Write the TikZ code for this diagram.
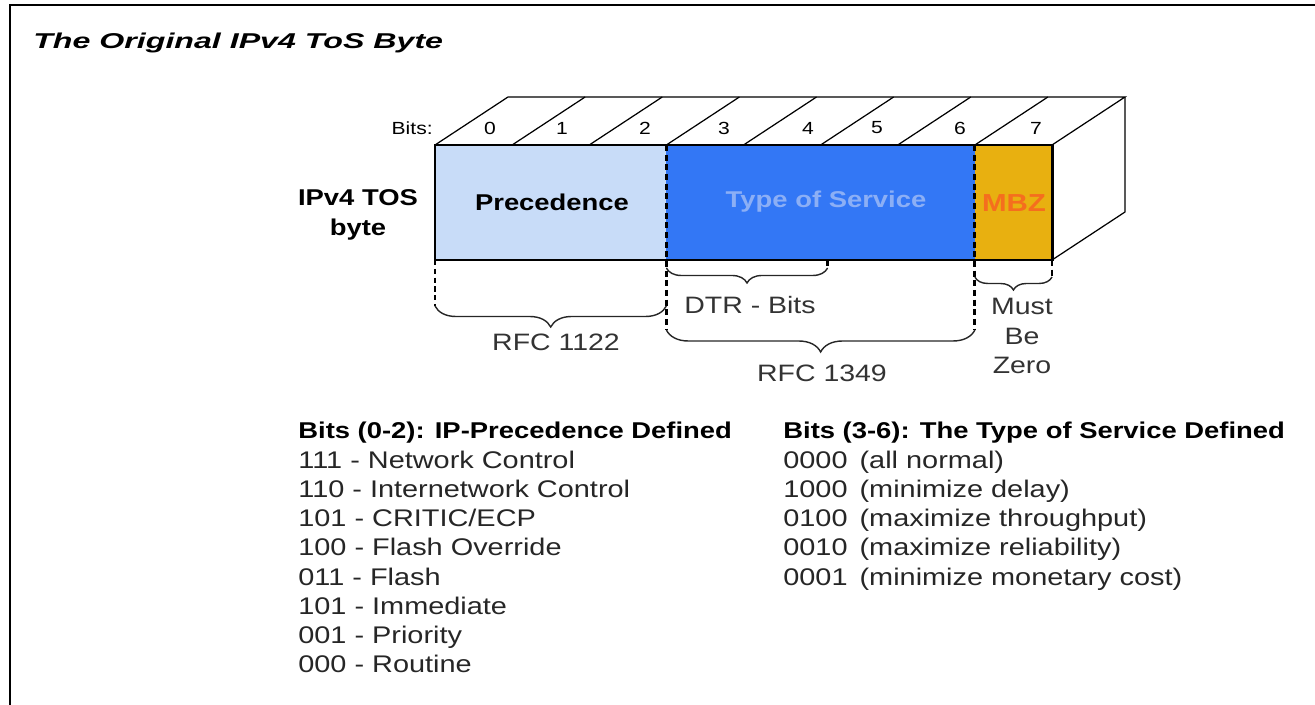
\documentclass[tikz,border=0pt]{standalone}
\usepackage{fontspec}
\setmainfont[FakeStretch=1.2]{Liberation Sans}
\newfontfamily\titlefont[FakeStretch=1.5]{Liberation Sans}
\usepackage{xcolor}
\usetikzlibrary{decorations.pathreplacing,positioning,calc}
\definecolor{precfill}{RGB}{200,220,248}
\definecolor{tosfill}{RGB}{51,119,245}
\definecolor{mbzfill}{RGB}{232,176,16}
\definecolor{tostext}{RGB}{140,175,245}
\definecolor{mbztext}{RGB}{245,110,30}
\tikzset{
  frame/.style    = {line width=1.2pt, draw=black},
  titletext/.style= {inner sep=0pt, font=\titlefont\fontsize{12.2}{14}\selectfont\bfseries\itshape},
  boxline/.style  = {line width=1.7pt, draw=black},
  faceline/.style = {line width=0.7pt, draw=black},
  bitdash/.style  = {line width=1.6pt, draw=black, dash pattern=on 3.5pt off 2pt},
  legdash/.style  = {line width=0.8pt, draw=black, dash pattern=on 3pt off 2pt},
  brc/.style      = {decorate, line width=0.8pt, draw=black!85},
  fieldlbl/.style = {inner sep=0pt, font=\fontsize{13}{15}\selectfont\bfseries},
  bitno/.style    = {inner sep=0pt, font=\fontsize{10}{12}\selectfont},
  note/.style     = {inner sep=0pt, text=black!80, font=\fontsize{13.5}{16}\selectfont},
  lst/.style      = {inner sep=0pt, anchor=base west, text=black!85,
                     font=\fontsize{13.7}{16}\selectfont},
  lsthead/.style  = {lst, text=black, font=\fontsize{13}{16}\selectfont\bfseries},
}

\begin{document}
\begin{tikzpicture}[x=0.02cm, y=-0.02cm]
  \useasboundingbox (0,0) rectangle (1315,705);
  \draw[frame] (10,705) -- (10,5) -- (1315,5);
  \node[titletext, anchor=west] (title) at (33,43) {The Original IPv4 ToS Byte};

  % bit boundaries, front top and bottom edge
  \foreach \i in {0,...,8}{
    \coordinate (t\i) at (435+77.125*\i,145);
    \coordinate (u\i) at (435+77.125*\i,260);
  }

  % front face
  \fill[precfill] (t0) rectangle (u3);
  \fill[tosfill]  (t3) rectangle (u7);
  \fill[mbzfill]  (t7) rectangle (u8);
  \draw[bitdash] (t3) -- ++(0,185);
  \draw[bitdash] (t7) -- ++(0,185);
  \draw[boxline] (t0) rectangle (u8);

  % top and side faces
  \draw[faceline] (t0) -- ++(73,-48) -- ($(t8)+(73,-48)$) -- (t8);
  \foreach \i in {1,...,7}
    \draw[faceline] (t\i) -- ++(73,-48);
  \draw[faceline] (t8) ++(73,-48) -- ++(0,115) -- (u8);

  \node[bitno, anchor=east] (bits) at (433,128) {Bits:};
  \foreach \b/\x in {0/490,1/562,2/645,3/724,4/808,5/877,6/960,7/1036}
    \node[bitno] (bit\b) at (\x,128) {\b};

  \node[fieldlbl, align=center] (ipv4) at (358,215) {IPv4 TOS\\[2pt]byte};
  \node[fieldlbl] (prec) at (552,202) {Precedence};
  \node[fieldlbl, text=tostext] (tos) at (826,202) {Type of Service};
  \node[fieldlbl, text=mbztext, font=\fontsize{14}{16}\selectfont\bfseries] (mbz) at (1014,203) {MBZ};

  % braces below the byte
  \draw[legdash] (u0) -- ++(0,46);
  \draw[bitdash] (u5) ++(7,0) coordinate (dtrend) -- ++(0,8);
  \draw[bitdash] (u8) -- ++(0,17);
  \draw[brc, decoration={brace, mirror, amplitude=0.3cm}]
    (u3) ++(0,8) -- ($(dtrend)+(0,8)$);
  \draw[brc, decoration={brace, mirror, amplitude=0.42cm}]
    (u0) ++(0,46) -- ($(u3)+(0,46)$);
  \draw[brc, decoration={brace, mirror, amplitude=0.44cm}]
    (u3) ++(0,70) -- ($(u7)+(0,70)$);
  \draw[brc, decoration={brace, mirror, amplitude=0.26cm}]
    (u7) ++(0,17) -- ($(u8)+(0,17)$);

  \node[note] (dtr) at (750,305) {DTR - Bits};
  \node[note] (rfca) at (556,342) {RFC 1122};
  \node[note] (rfcb) at (822,373) {RFC 1349};
  \node[note, align=center] (mbe) at (1022,336) {Must\\[1pt]Be\\[1pt]Zero};

  % bit value tables
  \node[lsthead] (phead) at (298,439) {Bits (0-2): IP-Precedence Defined};
  \foreach \t [count=\k] in {111 - Network Control, 110 - Internetwork Control,
      101 - CRITIC/ECP, 100 - Flash Override, 011 - Flash, 101 - Immediate,
      001 - Priority, 000 - Routine}
    \node[lst] (p\k) at (298,440+29*\k) {\t};
  \node[lsthead] (thead) at (783,439) {Bits (3-6): The Type of Service Defined};
  \foreach \c/\t [count=\k] in {0000/all normal, 1000/minimize delay,
      0100/maximize throughput, 0010/maximize reliability,
      0001/minimize monetary cost}
    \node[lst] (s\k) at (783,440+29*\k) {\c\enspace(\t)};
\end{tikzpicture}
\end{document}
